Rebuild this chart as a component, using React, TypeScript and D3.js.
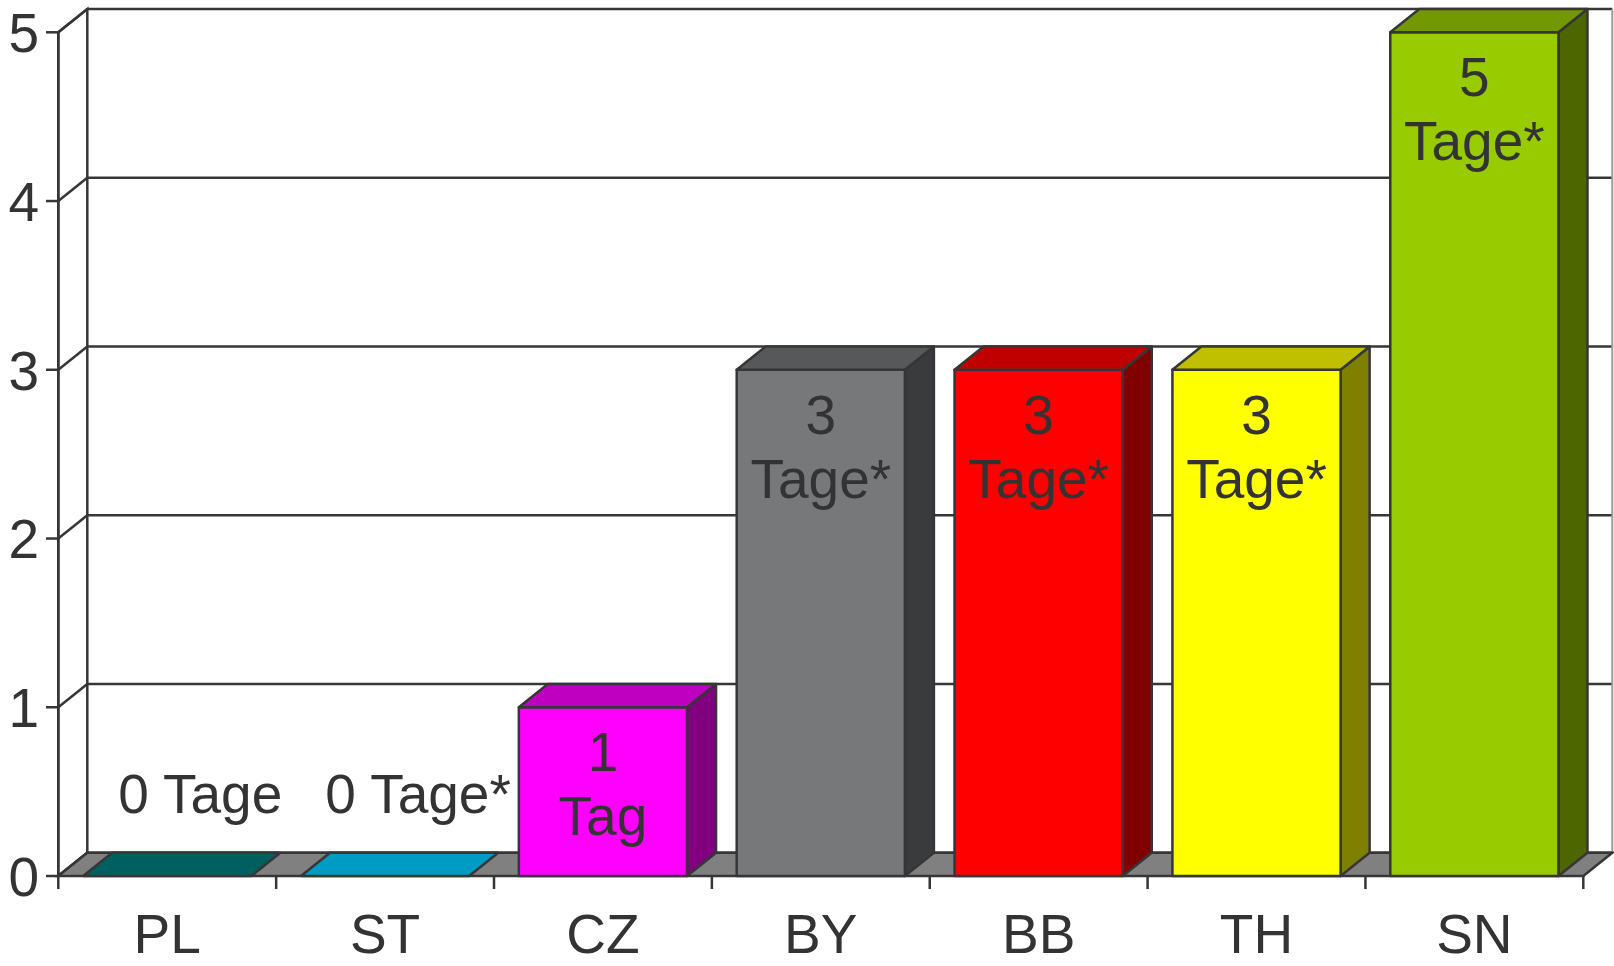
import React from "react";
import * as d3 from "d3";

const categories = ["PL", "ST", "CZ", "BY", "BB", "TH", "SN"];
const values = [0, 0, 1, 3, 3, 3, 5];
const labels = ["0 Tage", "0 Tage*", "1\nTag", "3\nTage*", "3\nTage*", "3\nTage*", "5\nTage*"];
const frontColors = ["#008080", "#00CCFF", "#FF00FF", "#77787A", "#FF0000", "#FFFF00", "#99CC00"];
const topColors = ["#005F5F", "#009BC4", "#C000C0", "#57585A", "#C00000", "#C0C000", "#739900"];
const sideColors = ["#004040", "#006680", "#800080", "#3A3B3D", "#800000", "#808000", "#4D6600"];
const yTicks = [0, 1, 2, 3, 4, 5];

const W = 1614;
const H = 966;
const DX = 29;
const DY = 23.3;
const LINE = "#363636";
const SW = 2.5;
const FONT = "'Liberation Sans', Arial, Helvetica, sans-serif";

export default function App() {
  const x = d3
    .scaleBand<string>()
    .domain(categories)
    .range([58.3, 1583.3])
    .paddingInner(0.228)
    .paddingOuter(0.114);
  const y = d3.scaleLinear().domain([0, 5]).range([876, 32.3]);
  const x0 = 58.3;
  const x1 = 1583.3;
  const step = x.step();
  const y0 = y(0);
  const yMax = y(5);

  const pts = (p: number[][]) => p.map((d) => d.join(",")).join(" ");

  return (
    <svg
      width={W}
      height={H}
      style={{ position: "absolute", left: 0, top: 0, display: "block", background: "#fff" }}
      fontFamily={FONT}
    >
      {/* back wall */}
      <rect x={x0 + DX} y={yMax - DY} width={x1 - x0} height={y0 - yMax} fill="#fff" stroke="none" />
      {/* left wall */}
      <polygon
        points={pts([[x0, yMax], [x0 + DX, yMax - DY], [x0 + DX, y0 - DY], [x0, y0]])}
        fill="#fff"
        stroke={LINE}
        strokeWidth={SW}
      />
      {/* gridlines */}
      {yTicks.map((t) => (
        <g key={"g" + t}>
          <line x1={x0 + DX} x2={x1 + DX} y1={y(t) - DY} y2={y(t) - DY} stroke={LINE} strokeWidth={SW} />
          <line x1={x0} x2={x0 + DX} y1={y(t)} y2={y(t) - DY} stroke={LINE} strokeWidth={SW} />
        </g>
      ))}
      <line x1={x1 + DX} x2={x1 + DX} y1={yMax - DY} y2={y0 - DY} stroke="#999" strokeWidth={2} />
      {/* floor */}
      <polygon
        points={pts([[x0, y0], [x1, y0], [x1 + DX, y0 - DY], [x0 + DX, y0 - DY]])}
        fill="#808080"
        stroke={LINE}
        strokeWidth={SW}
      />
      {/* y axis */}
      <line x1={x0} x2={x0} y1={yMax} y2={y0 + 13} stroke={LINE} strokeWidth={SW} />
      {yTicks.map((t) => (
        <g key={"t" + t}>
          <line x1={46} x2={x0} y1={y(t)} y2={y(t)} stroke={LINE} strokeWidth={SW} />
          <text x={39} y={y(t)} dy="0.36em" textAnchor="end" fontSize={55} fill="#333">
            {t}
          </text>
        </g>
      ))}
      {/* category ticks */}
      {categories.map((c, i) => (
        <line
          key={"ct" + c}
          x1={x0 + step * (i + 1)}
          x2={x0 + step * (i + 1)}
          y1={y0}
          y2={y0 + 13}
          stroke={LINE}
          strokeWidth={SW}
        />
      ))}
      {/* bars */}
      {categories.map((c, i) => {
        const bx0 = x(c)!;
        const bx1 = bx0 + x.bandwidth();
        const yt = y(values[i]);
        return (
          <g key={"b" + c} stroke={LINE} strokeWidth={SW} strokeLinejoin="round">
            {values[i] > 0 && (
              <>
                <polygon
                  points={pts([[bx1, yt], [bx1 + DX, yt - DY], [bx1 + DX, y0 - DY], [bx1, y0]])}
                  fill={sideColors[i]}
                />
                <rect x={bx0} y={yt} width={bx1 - bx0} height={y0 - yt} fill={frontColors[i]} />
              </>
            )}
            <polygon
              points={pts([[bx0, yt], [bx1, yt], [bx1 + DX, yt - DY], [bx0 + DX, yt - DY]])}
              fill={topColors[i]}
            />
          </g>
        );
      })}
      {/* data labels */}
      {categories.map((c, i) => {
        const cx = x(c)! + x.bandwidth() / 2;
        const yt = y(values[i]);
        const lines = labels[i].split("\n");
        if (values[i] === 0) {
          return (
            <text key={"l" + c} x={cx + 33} y={yt - 63} textAnchor="middle" fontSize={55} fill="#333">
              {lines[0]}
            </text>
          );
        }
        return (
          <text key={"l" + c} textAnchor="middle" fontSize={55} fill="#333">
            {lines.map((ln, k) => (
              <tspan key={k} x={cx} y={yt + 64 + k * 64}>
                {ln}
              </tspan>
            ))}
          </text>
        );
      })}
      {/* category labels */}
      {categories.map((c) => (
        <text
          key={"cl" + c}
          x={x(c)! + x.bandwidth() / 2}
          y={953}
          textAnchor="middle"
          fontSize={55}
          fill="#333"
        >
          {c}
        </text>
      ))}
    </svg>
  );
}
